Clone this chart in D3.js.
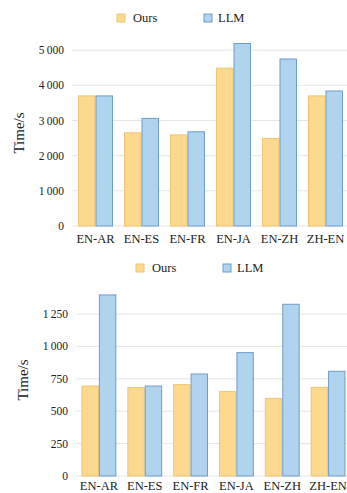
<!DOCTYPE html>
<html><head><meta charset="utf-8">
<script src="https://cdn.jsdelivr.net/npm/d3@7"></script>
<style>body{margin:0;background:#fff}svg{display:block}</style>
</head><body>
<script>
const categories = ["EN-AR","EN-ES","EN-FR","EN-JA","EN-ZH","ZH-EN"];
const seriesNames = ["Ours","LLM"];
const topOurs = [3700,2650,2590,4490,2490,3700];
const topLLM  = [3700,3060,2680,5190,4750,3840];
const topTicks = [0,1000,2000,3000,4000,5000];
const topTickLabels = ["0","1\u2009000","2\u2009000","3\u2009000","4\u2009000","5\u2009000"];
const botOurs = [694,682,705,651,599,684];
const botLLM  = [1397,694,787,952,1325,808];
const botTicks = [0,250,500,750,1000,1250];
const botTickLabels = ["0","250","500","750","1\u2009000","1\u2009250"];
const yLabel = "Time/s";

const W=347,H=493;
const svg=d3.select("body").append("svg").attr("width",W).attr("height",H);
const colors={Ours:{fill:"#FDD98F",stroke:"#F0C473"},LLM:{fill:"#B0D3EE",stroke:"#6E9ECB"}};
const font="'Liberation Serif','Times New Roman',serif";

function panel(cfg){
  const g=svg.append("g");
  const x=d3.scaleBand().domain(categories).range(cfg.xr).paddingInner(0.24).paddingOuter(0.12);
  const xs=d3.scaleBand().domain(seriesNames).range([0,x.bandwidth()]);
  const y=d3.scaleLinear().domain([cfg.ticks[0],cfg.ticks[cfg.ticks.length-1]]).range(cfg.yr);
  g.selectAll("line.grid").data(cfg.ticks).join("line")
    .attr("x1",cfg.gridX0).attr("x2",W).attr("y1",d=>y(d)).attr("y2",d=>y(d))
    .attr("stroke","#e6e6e6").attr("stroke-width",1);
  g.selectAll("text.tick").data(cfg.ticks).join("text")
    .attr("x",cfg.tickX).attr("y",d=>y(d)).attr("dy","0.35em").attr("text-anchor","end")
    .attr("font-family",font).attr("font-size",11.5).attr("fill","#222")
    .text((d,i)=>cfg.tickLabels[i]);
  const rows=categories.map((c,i)=>({c,vals:[{s:"Ours",v:cfg.ours[i]},{s:"LLM",v:cfg.llm[i]}]}));
  const grp=g.selectAll("g.cat").data(rows).join("g").attr("transform",d=>`translate(${x(d.c)},0)`);
  grp.selectAll("rect").data(d=>d.vals).join("rect")
    .attr("x",d=>xs(d.s)+0.5).attr("width",xs.bandwidth()-1)
    .attr("y",d=>y(d.v)).attr("height",d=>y(0)-y(d.v))
    .attr("fill",d=>colors[d.s].fill).attr("stroke",d=>colors[d.s].stroke).attr("stroke-width",1);
  g.selectAll("text.xl").data(categories).join("text")
    .attr("x",d=>x(d)+x.bandwidth()/2).attr("y",cfg.xLabY).attr("dy","0.35em")
    .attr("text-anchor","middle").attr("font-family",font).attr("font-size",12.5).attr("fill","#222").text(d=>d);
  g.append("text").attr("transform",`translate(${cfg.yLabX},${cfg.yLabY}) rotate(-90)`)
    .attr("text-anchor","middle").attr("dy","0.35em").attr("font-family",font).attr("font-size",15).attr("fill","#222").text(yLabel);
  const lg=g.selectAll("g.lg").data(seriesNames).join("g")
    .attr("transform",(d,i)=>`translate(${cfg.legX[i]},${cfg.legY})`);
  lg.append("rect").attr("x",0).attr("y",-4).attr("width",8).attr("height",8)
    .attr("fill",d=>colors[d].fill).attr("stroke",d=>colors[d].stroke);
  lg.append("text").attr("x",d=>d==="Ours"?16:14).attr("y",0).attr("dy","0.35em")
    .attr("font-family",font).attr("font-size",12.5).attr("fill","#222").text(d=>d);
}

panel({xr:[72.5,348.5],yr:[226,50.2],ticks:topTicks,tickLabels:topTickLabels,ours:topOurs,llm:topLLM,
  gridX0:72,tickX:64,xLabY:239,yLabX:19,yLabY:133,legX:[117,204],legY:18});
panel({xr:[76,351],yr:[476,314],ticks:botTicks,tickLabels:botTickLabels,ours:botOurs,llm:botLLM,
  gridX0:76,tickX:68,xLabY:486,yLabX:23,yLabY:380,legX:[136,223],legY:268});
</script>
</body></html>
